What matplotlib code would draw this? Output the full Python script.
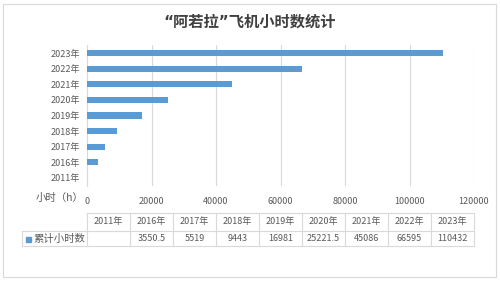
import matplotlib.pyplot as plt
import matplotlib.transforms as mtransforms
from matplotlib.patches import Rectangle

plt.rcParams['font.family'] = ['Noto Sans CJK SC', 'DejaVu Sans']

years = ["2011年", "2016年", "2017年", "2018年", "2019年", "2020年", "2021年", "2022年", "2023年"]
hours = [0, 3550.5, 5519, 9443, 16981, 25221.5, 45086, 66595, 110432]
hour_labels = ["", "3550.5", "5519", "9443", "16981", "25221.5", "45086", "66595", "110432"]
series_name = "累计小时数"
xticks = [0, 20000, 40000, 60000, 80000, 100000, 120000]

bar_color = "#5B9BD5"
text_color = "#595959"
line_color = "#D9D9D9"

W, H = 500, 281
fig = plt.figure(figsize=(5, 2.81), dpi=100)

# outer frame
fig.patches.append(Rectangle((3 / W, 4 / H), 493 / W, 273 / H, transform=fig.transFigure,
                             fill=False, edgecolor=line_color, linewidth=0.8))

ax = fig.add_axes([87 / W, 1 - 185.8 / H, 387 / W, 140.6 / H])
y = range(len(years))
ax.barh(y, hours, height=0.4, color=bar_color, zorder=3)
ax.set_ylim(-0.5, len(years) - 0.5)
ax.set_xlim(0, 120000)
ax.set_yticks(list(y))
ax.set_yticklabels(years, fontsize=6.5, color=text_color)
ax.set_xticks(xticks)
ax.set_xticklabels([str(v) for v in xticks], fontsize=6.5, color=text_color)
ax.tick_params(length=0, pad=5)
ax.tick_params(axis="x", pad=8)
ax.grid(axis="x", color=line_color, linewidth=0.8, zorder=0)
for s in ["top", "right", "bottom"]:
    ax.spines[s].set_visible(False)
ax.spines["left"].set_color(line_color)
ax.spines["left"].set_linewidth(0.8)

fig.text(84 / W, 1 - 198 / H, "小时（h）", fontsize=7.5, color=text_color, ha="right", va="center")

fig.text(0.5, 1 - 22 / H, "\u201c阿若拉\u201d飞机小时数统计", fontsize=11, fontweight="bold",
         color="#404040", ha="center", va="center", family=["DejaVu Sans", "Noto Sans CJK SC"])

# data table under the axis
trans = mtransforms.blended_transform_factory(ax.transData, ax.transAxes)
ncol = len(years)
cw = 120000 / ncol
y_top, y_bot = -0.194, -0.428
y_head, y_data = -0.257, -0.378
for i, (yr, lab) in enumerate(zip(years, hour_labels)):
    xc = (i + 0.5) * cw
    ax.text(xc, y_head, yr, transform=trans, fontsize=6.5, color=text_color,
            ha="center", va="center", clip_on=False)
    ax.text(xc, y_data, lab, transform=trans, fontsize=6.5, color=text_color,
            ha="center", va="center", clip_on=False)
for i in range(ncol + 1):
    ax.plot([i * cw, i * cw], [y_top, y_bot], transform=trans, color=line_color,
            linewidth=0.8, clip_on=False)
ax.plot([0, 120000], [y_top, y_top], transform=trans, color=line_color, linewidth=0.8, clip_on=False)
fig.add_artist(plt.Line2D([22 / W, 474 / W], [1 - 231 / H, 1 - 231 / H], color=line_color, linewidth=0.8))
fig.add_artist(plt.Line2D([22 / W, 474 / W], [1 - 246 / H, 1 - 246 / H], color=line_color, linewidth=0.8))
fig.add_artist(plt.Line2D([22 / W, 22 / W], [1 - 231 / H, 1 - 246 / H], color=line_color, linewidth=0.8))
fig.patches.append(Rectangle((26 / W, 1 - 242 / H), 5 / W, 5 / H, transform=fig.transFigure,
                             color=bar_color))
fig.text(33 / W, 1 - 239 / H, series_name, fontsize=7.5, color=text_color, ha="left", va="center")

fig.savefig("out.png", dpi=100)
